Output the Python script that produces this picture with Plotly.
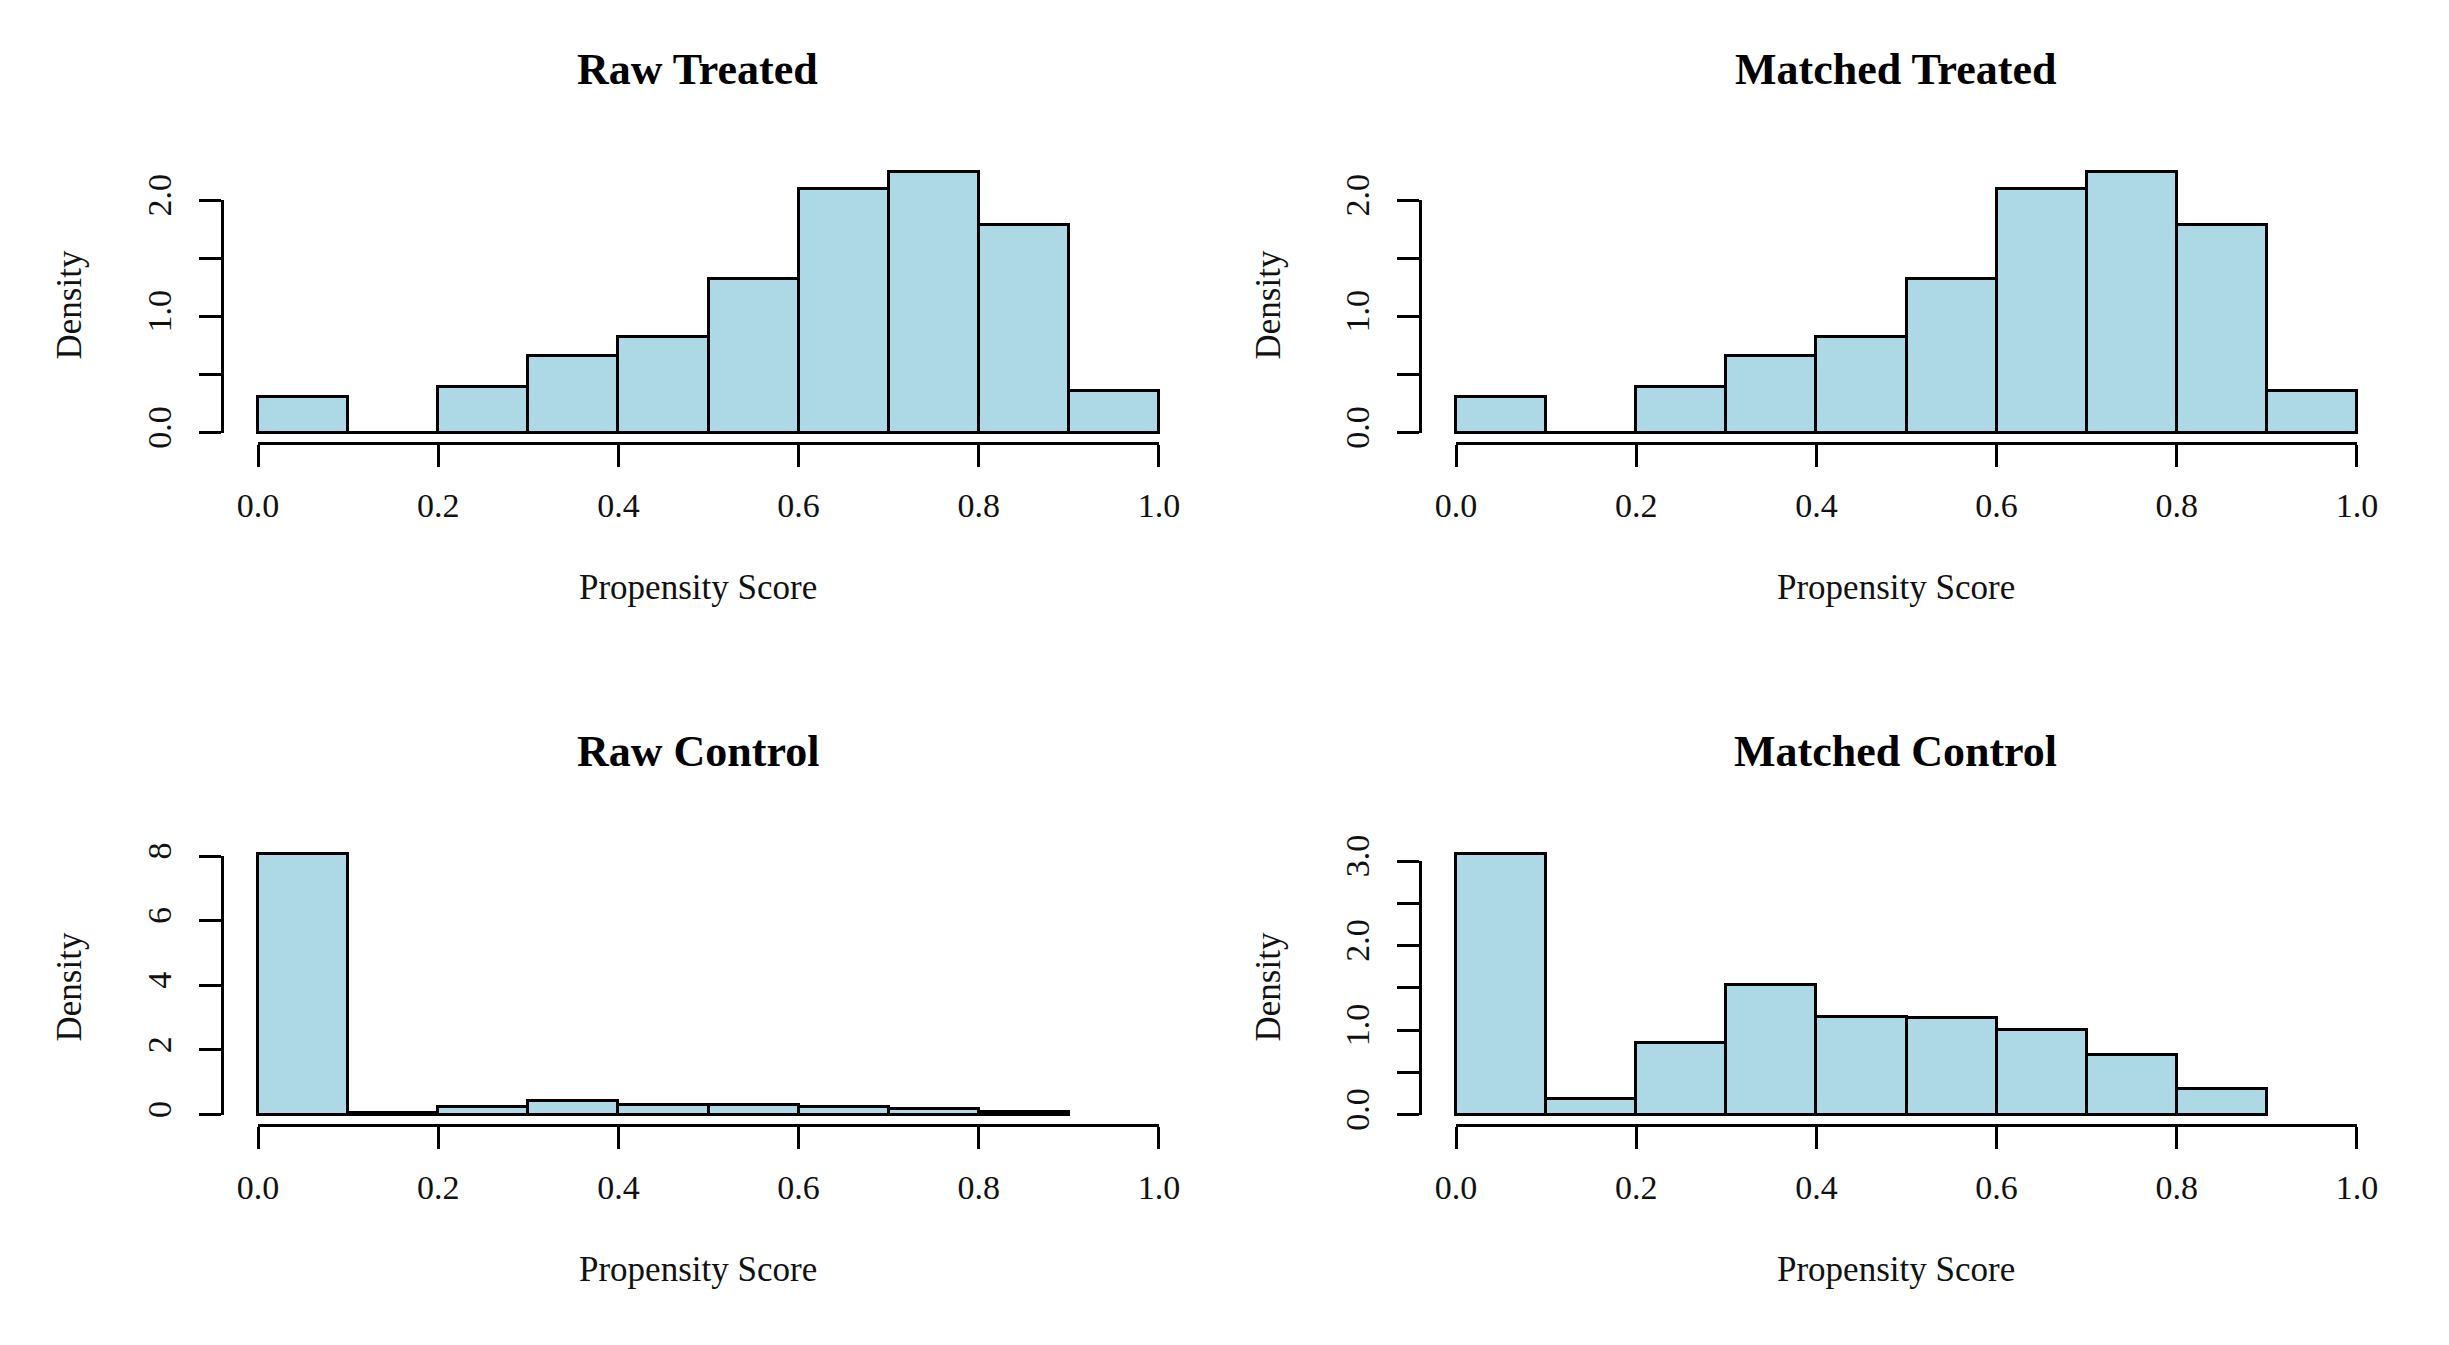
import plotly.graph_objects as go

W, H = 2449, 1345

# ---------------- data ----------------
treated_bins = [0.0, 0.1, 0.2, 0.3, 0.4, 0.5, 0.6, 0.7, 0.8, 0.9, 1.0]
control_bins = [0.0, 0.1, 0.2, 0.3, 0.4, 0.5, 0.6, 0.7, 0.8, 0.9]

raw_treated = [0.31, 0.0, 0.39, 0.66, 0.82, 1.32, 2.10, 2.24, 1.79, 0.36]
matched_treated = [0.31, 0.0, 0.39, 0.66, 0.82, 1.32, 2.10, 2.24, 1.79, 0.36]
raw_control = [8.05, 0.05, 0.24, 0.41, 0.31, 0.31, 0.23, 0.17, 0.07]
matched_control = [3.08, 0.18, 0.85, 1.54, 1.16, 1.14, 1.00, 0.71, 0.30]

titles = ["Raw Treated", "Matched Treated", "Raw Control", "Matched Control"]
x_label = "Propensity Score"
y_label = "Density"

x_tickvals = [0.0, 0.2, 0.4, 0.6, 0.8, 1.0]
x_ticktext = ["0.0", "0.2", "0.4", "0.6", "0.8", "1.0"]

y_tickvals_treated = [0.0, 0.5, 1.0, 1.5, 2.0]
y_ticktext_treated = ["0.0", "", "1.0", "", "2.0"]
y_tickvals_raw_control = [0, 2, 4, 6, 8]
y_ticktext_raw_control = ["0", "2", "4", "6", "8"]
y_tickvals_matched_control = [0.0, 0.5, 1.0, 1.5, 2.0, 2.5, 3.0]
y_ticktext_matched_control = ["0.0", "", "1.0", "", "2.0", "", "3.0"]

# ---------------- styling / layout ----------------
FILL = "#ADD8E6"
FONT = "Liberation Serif"
TICK_SIZE = 34
LABEL_SIZE = 35
TITLE_SIZE = 44

panels = [
    dict(bins=treated_bins, vals=raw_treated, title=titles[0],
         yt=y_tickvals_treated, ytt=y_ticktext_treated, col=0, row=0),
    dict(bins=treated_bins, vals=matched_treated, title=titles[1],
         yt=y_tickvals_treated, ytt=y_ticktext_treated, col=1, row=0),
    dict(bins=control_bins, vals=raw_control, title=titles[2],
         yt=y_tickvals_raw_control, ytt=y_ticktext_raw_control, col=0, row=1),
    dict(bins=control_bins, vals=matched_control, title=titles[3],
         yt=y_tickvals_matched_control, ytt=y_ticktext_matched_control, col=1, row=1),
]

# plot regions in pixels (left, right) per column, (top, bottom) per row
col_px = [(222, 1195), (1420, 2393)]
row_px = [(162, 443), (844, 1125)]
title_y = [70, 752]
xlab_y = [587, 1269]
ylab_x = [69, 1268]

def fx(px):
    return px / W

def fy(py):
    return 1 - py / H

fig = go.Figure()
layout = dict(
    width=W, height=H,
    margin=dict(l=0, r=0, t=0, b=0),
    paper_bgcolor="white", plot_bgcolor="rgba(0,0,0,0)",
    template="none", showlegend=False, bargap=0,
    font=dict(family=FONT, color="black"),
)
annotations = []

for i, p in enumerate(panels, start=1):
    L, R = col_px[p["col"]]
    T, B = row_px[p["row"]]
    xr = [-0.04, 1.04]
    m = max(p["vals"])
    yr = [-0.04 * m, 1.04 * m]

    def xpix(v):
        return L + (v - xr[0]) / (xr[1] - xr[0]) * (R - L)

    def ypix(v):
        return B - (v - yr[0]) / (yr[1] - yr[0]) * (B - T)

    bins = p["bins"]
    centers = [(bins[k] + bins[k + 1]) / 2 for k in range(len(bins) - 1)]
    widths = [bins[k + 1] - bins[k] for k in range(len(bins) - 1)]

    fig.add_trace(go.Bar(
        x=centers, y=p["vals"], width=widths,
        marker=dict(color=FILL, line=dict(color="black", width=3)),
        xaxis=f"x{i}", yaxis=f"y{i}", hoverinfo="skip",
    ))
    layout[f"xaxis{i}"] = dict(domain=[fx(L), fx(R)], range=xr, visible=False,
                               anchor=f"y{i}", fixedrange=True)
    layout[f"yaxis{i}"] = dict(domain=[fy(B), fy(T)], range=yr, visible=False,
                               anchor=f"x{i}", fixedrange=True)

    # R-style detached axes: span only from first to last tick
    j = i + 4
    x0p, x1p = xpix(x_tickvals[0]), xpix(x_tickvals[-1])
    y0p, y1p = ypix(p["yt"][0]), ypix(p["yt"][-1])
    fig.add_trace(go.Scatter(
        x=[x_tickvals[0]], y=[p["yt"][0]], mode="markers",
        marker=dict(opacity=0), xaxis=f"x{j}", yaxis=f"y{j}", hoverinfo="skip",
    ))
    layout[f"xaxis{j}"] = dict(
        domain=[fx(x0p), fx(x1p)], range=[x_tickvals[0], x_tickvals[-1]],
        anchor="free", position=fy(B), side="bottom",
        showline=True, linecolor="black", linewidth=3,
        ticks="outside", ticklen=22, tickwidth=3, tickcolor="black",
        tickvals=x_tickvals, ticktext=x_ticktext,
        tickfont=dict(family=FONT, size=TICK_SIZE, color="#111"),
        ticklabelstandoff=9,
        showgrid=False, zeroline=False, fixedrange=True,
    )
    layout[f"yaxis{j}"] = dict(
        domain=[fy(y0p), fy(y1p)], range=[p["yt"][0], p["yt"][-1]],
        anchor="free", position=fx(L), side="left",
        showline=True, linecolor="black", linewidth=3,
        ticks="outside", ticklen=22, tickwidth=3, tickcolor="black",
        tickvals=p["yt"], ticktext=p["ytt"], tickangle=-90,
        tickfont=dict(family=FONT, size=TICK_SIZE, color="#111"),
        ticklabelstandoff=14,
        showgrid=False, zeroline=False, fixedrange=True,
    )

    cx = (L + R) / 2 - 11
    annotations.append(dict(
        text=f"<b>{p['title']}</b>", x=fx(cx), y=fy(title_y[p["row"]]),
        xref="paper", yref="paper", xanchor="center", yanchor="middle",
        showarrow=False, font=dict(family=FONT, size=TITLE_SIZE, color="black"),
    ))
    annotations.append(dict(
        text=x_label, x=fx(cx), y=fy(xlab_y[p["row"]]),
        xref="paper", yref="paper", xanchor="center", yanchor="middle",
        showarrow=False, font=dict(family=FONT, size=LABEL_SIZE, color="#111"),
    ))
    annotations.append(dict(
        text=y_label, x=fx(ylab_x[p["col"]]), y=fy((T + B) / 2 + 3),
        xref="paper", yref="paper", xanchor="center", yanchor="middle",
        textangle=-90, showarrow=False,
        font=dict(family=FONT, size=LABEL_SIZE, color="#111"),
    ))

layout["annotations"] = annotations
fig.update_layout(**layout)
fig.write_html(
    "out.html",
    config={"displayModeBar": False},
    post_script="document.body.style.margin='0';document.body.style.overflow='hidden';",
)
